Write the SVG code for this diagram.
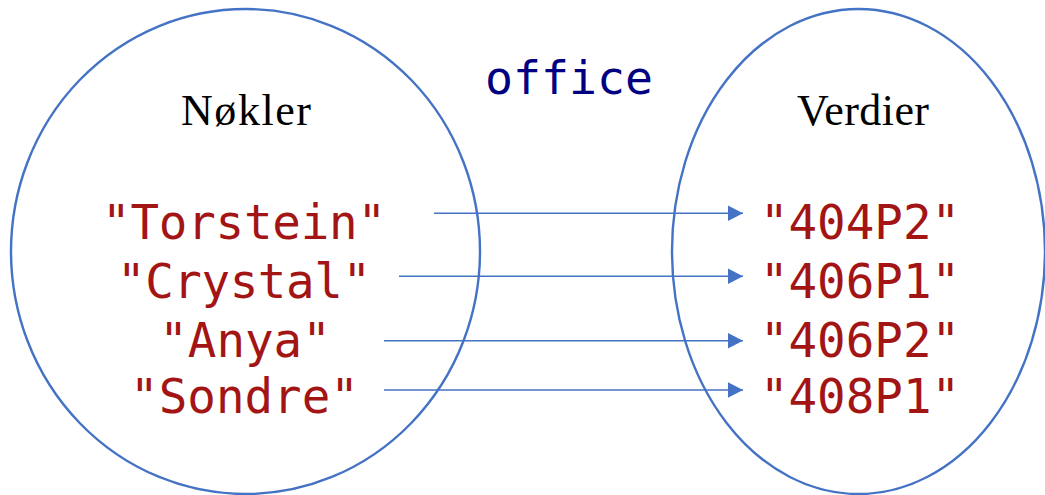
<svg xmlns="http://www.w3.org/2000/svg" width="1045" height="495" viewBox="0 0 1045 495">
<style>
.set{fill:none;stroke:#4472C4;stroke-width:2.4}
.title{font-family:"Liberation Serif","Times New Roman",serif;font-size:44px;fill:#000;text-anchor:middle}
.str{font-family:"DejaVu Sans Mono","Liberation Mono",monospace;font-size:47.5px;fill:#A31515;text-anchor:middle}
.name{font-family:"DejaVu Sans Mono","Liberation Mono",monospace;font-size:46.5px;fill:#000080;text-anchor:middle}
.conn line{stroke:#4472C4;stroke-width:1.6}
</style>
<defs>
<marker id="arr" markerUnits="userSpaceOnUse" markerWidth="16" markerHeight="16" refX="15" refY="8" orient="auto">
<path d="M0,0.3 L15,8 L0,15.7 Z" fill="#4472C4"/>
</marker>
</defs>
<rect width="1045" height="495" fill="#fff"/>
<g id="label-office">
<text class="name" x="569" y="94">office</text>
</g>
<g id="keys">
<ellipse class="set" cx="245.5" cy="251.5" rx="234.5" ry="242.5"/>
<text class="title" x="246" y="125" textLength="130">Nøkler</text>
<text class="str" x="244" y="239" textLength="284">"Torstein"</text>
<text class="str" x="244" y="298" textLength="254">"Crystal"</text>
<text class="str" x="245" y="357">"Anya"</text>
<text class="str" x="244.5" y="413">"Sondre"</text>
</g>
<g id="values">
<ellipse class="set" cx="858.5" cy="251.5" rx="186.5" ry="242.5"/>
<text class="title" x="863" y="125" textLength="132">Verdier</text>
<text class="str" x="860" y="239">"404P2"</text>
<text class="str" x="860" y="298">"406P1"</text>
<text class="str" x="860" y="357">"406P2"</text>
<text class="str" x="860" y="413">"408P1"</text>
</g>
<g id="connectors" class="conn">
<line x1="434" y1="213.3" x2="743" y2="213.3" marker-end="url(#arr)"/>
<line x1="399" y1="276.3" x2="743" y2="276.3" marker-end="url(#arr)"/>
<line x1="384" y1="340.7" x2="743" y2="340.7" marker-end="url(#arr)"/>
<line x1="384" y1="390" x2="743" y2="390" marker-end="url(#arr)"/>
</g>
</svg>
